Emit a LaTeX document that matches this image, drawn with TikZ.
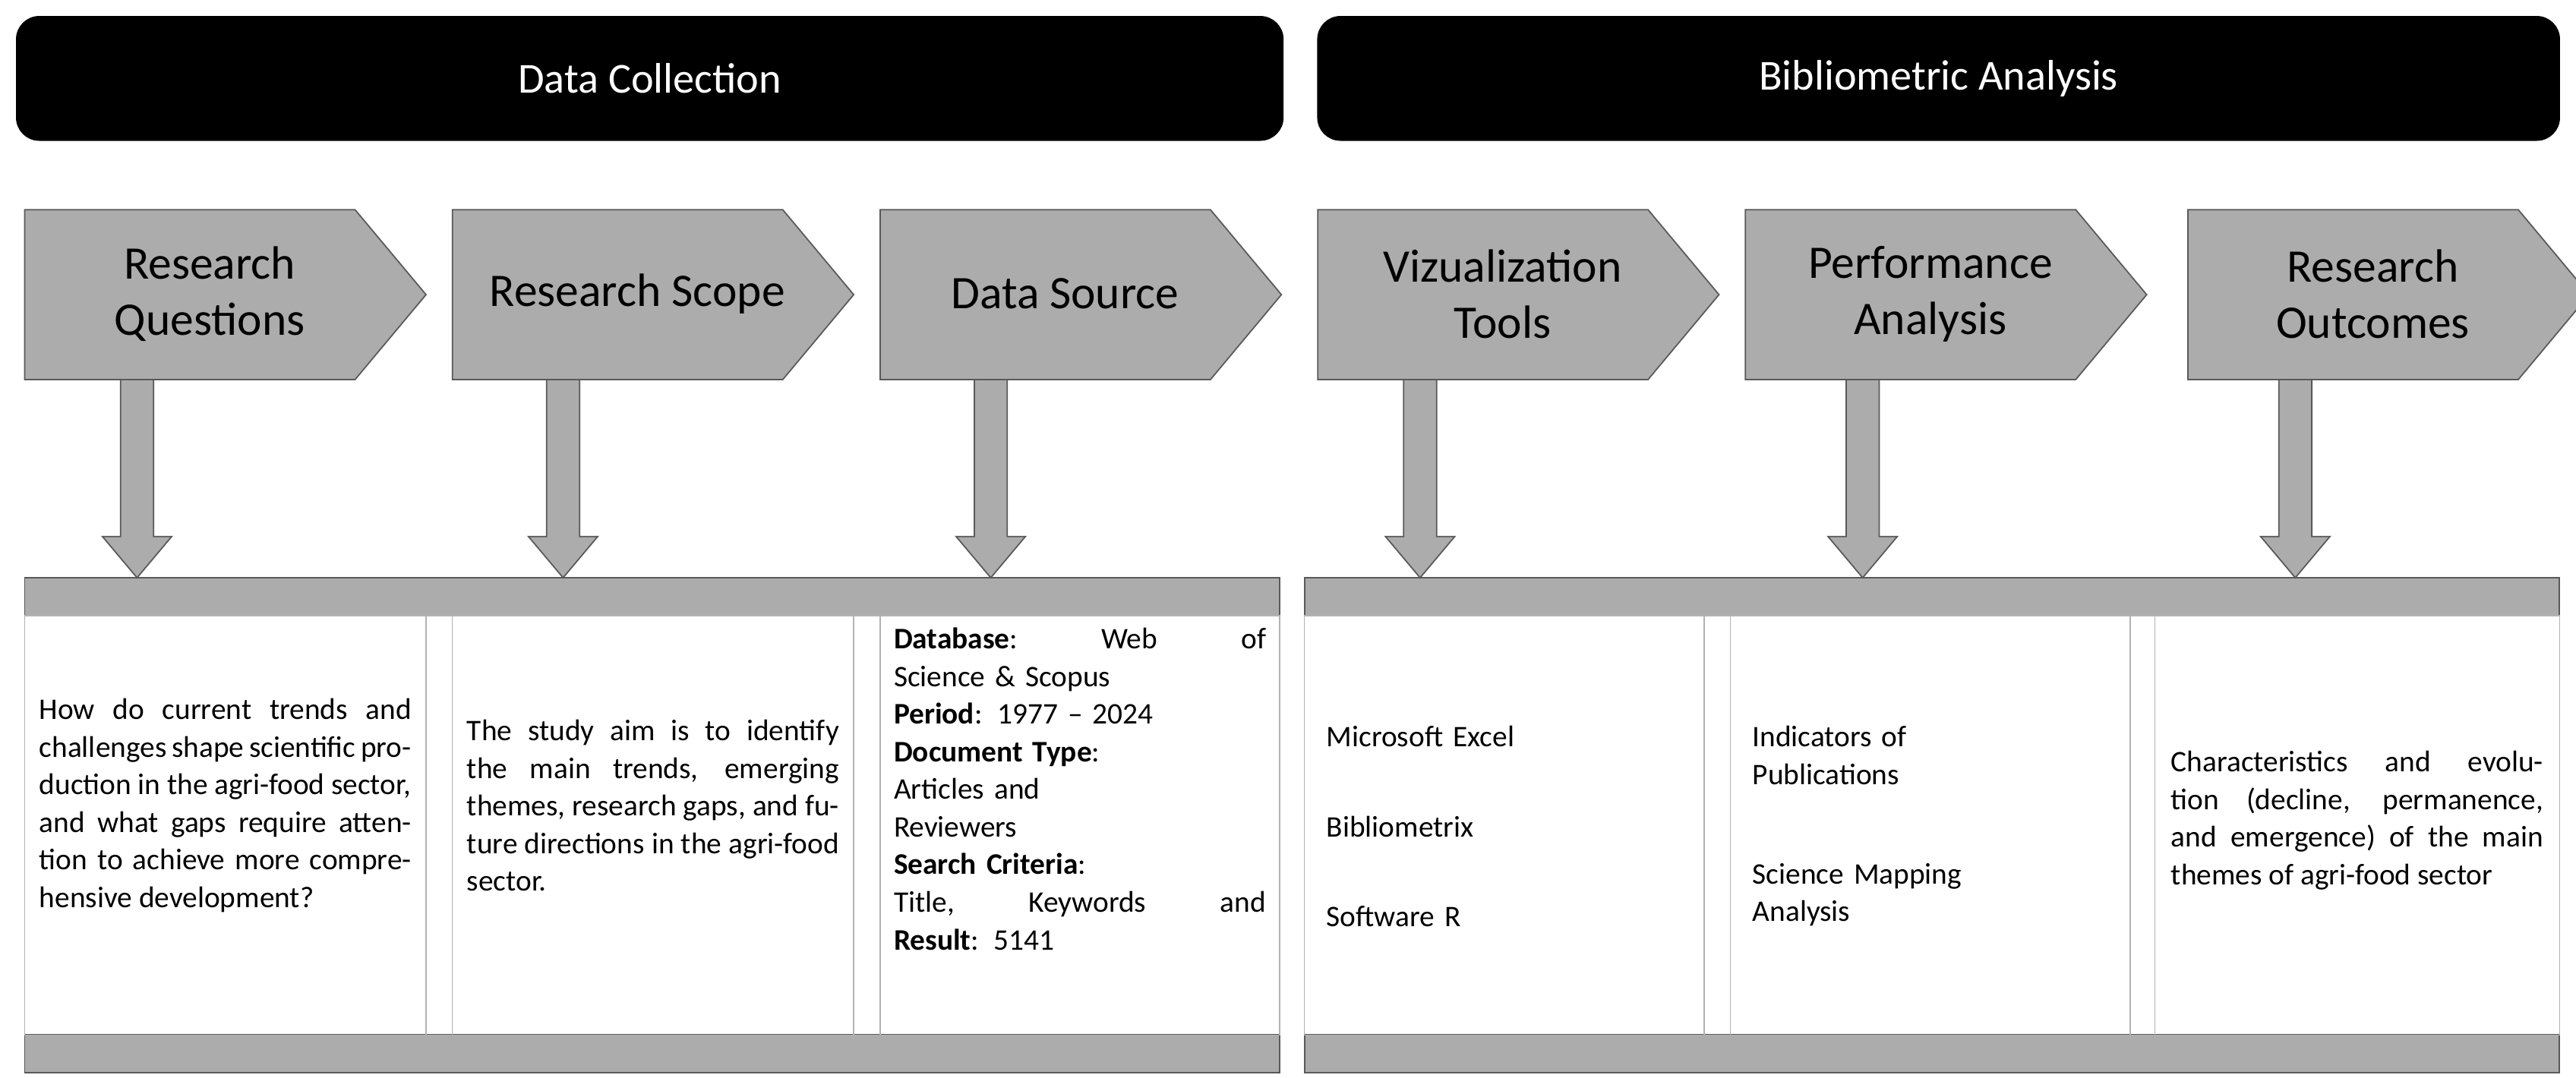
\documentclass[tikz,border=0pt]{standalone}
\usepackage{fontspec}
\setmainfont{Carlito}
\begin{document}
\begin{tikzpicture}[x=0.21744mm,y=-0.21744mm,
  hdr/.style={fill=black,rounded corners=3mm,text=white,font=\fontsize{16}{19}\selectfont},
  gfill/.style={fill=gray!65!white,draw=black!65,line width=0.5pt},
  lbl/.style={font=\fontsize{17.5}{21}\selectfont,align=center},
  cell/.style={draw=black!30,line width=0.4pt},
  body/.style={text width=49mm,align=justify,font=\fontsize{11.2}{14.1}\selectfont,inner sep=0pt}]
\useasboundingbox (0,0) rectangle (1560,653);
% headers
\filldraw[hdr] (10,10) rectangle (777,85);
\node[text=white,font=\fontsize{16}{19}\selectfont] (h1) at (393.5,47.5) {Data Collection};
\filldraw[hdr] (798,10) rectangle (1550,85);
\node[text=white,font=\fontsize{16}{19}\selectfont] (h2) at (1174,47.5) {Bibliometric Analysis};
% bars and cells
\foreach \a/\b in {15/775,790/1550}{
  \filldraw[gfill] (\a,350) rectangle (\b,373);
  \filldraw[gfill] (\a,627) rectangle (\b,650);
}
\foreach \a/\b in {15/258,258/274,274/517,517/533,533/775,790/1032,1032/1048,1048/1290,1290/1305,1305/1550}{
  \draw[cell] (\a,373) rectangle (\b,627);
}
% pentagons and arrows
\foreach \x/\n/\t/\c in {15/p1/{Research\\Questions}/83, 274/p2/{Research Scope}/341, 533/p3/{Data Source}/600,
  798/p4/{Vizualization\\Tools}/860, 1057/p5/{Performance\\Analysis}/1128, 1325/p6/{Research\\Outcomes}/1390}{
  \filldraw[gfill] (\x,127) -- ++(200,0) -- ++(43,51.5) -- ++(-43,51.5) -- ++(-200,0) -- cycle;
  \node[lbl] (\n) at (\x+112,178) {\t};
  \coordinate (\n s) at (\c,230);
  \coordinate (\n e) at (\c,350);
  \filldraw[gfill] (\n s) ++(-10,0) -- ++(0,95) -- ++(-11,0) -- (\n e) -- ++(21,-25) -- ++(-11,0) -- ++(0,-95) -- cycle;
}
% texts
\node[body,anchor=center] (t1) at (136.5,488) {How do current trends and challenges shape scientific production in the agri-food sector, and what gaps require attention to achieve more comprehensive development?};
\node[body,anchor=center] (t2) at (395.5,488) {The study aim is to identify the main trends, emerging themes, research gaps, and future directions in the agri-food sector.};
\node[body,anchor=north,align=left] (t3) at (654,380) {\textbf{Database}:\hfill Web\hfill of\\
Science \& Scopus\\
\textbf{Period}: 1977 – 2024\\
\textbf{Document Type}:\\
Articles and\\
Reviewers\\
\textbf{Search Criteria}:\\
Title,\hfill Keywords\hfill and\\
\textbf{Result}: 5141};
\node[body,anchor=west,align=left] (t4) at (803,446) {Microsoft Excel};
\node[body,anchor=west,align=left] (t5) at (803,501) {Bibliometrix};
\node[body,anchor=west,align=left] (t6) at (803,555) {Software R};
\node[body,anchor=west,align=left] (t7) at (1061,457.5) {Indicators of\\Publications};
\node[body,anchor=west,align=left] (t8) at (1061,542) {Science Mapping\\Analysis};
\node[body,anchor=center] (t9) at (1427.5,497) {Characteristics and evolution (decline, permanence, and emergence) of the main themes of agri-food sector};
\end{tikzpicture}
\end{document}
